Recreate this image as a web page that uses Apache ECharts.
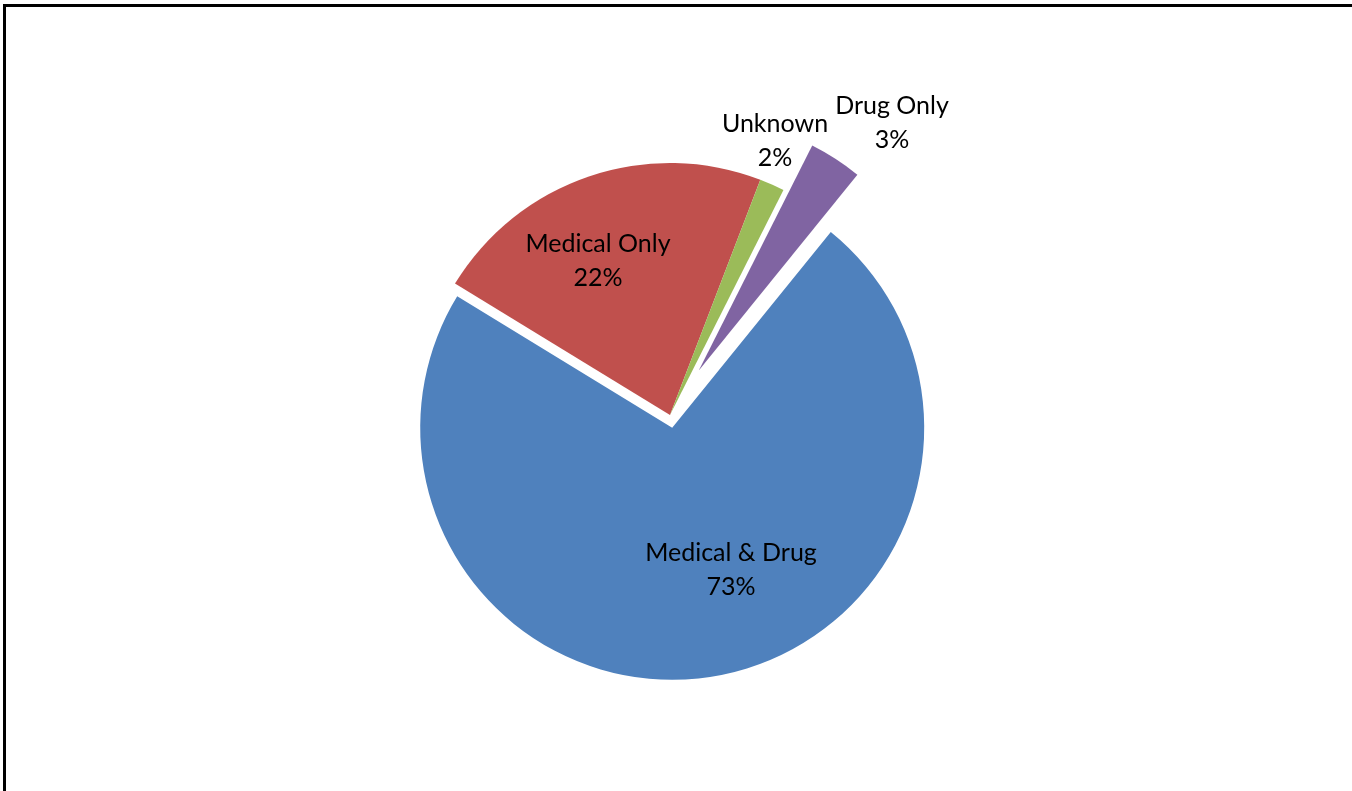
<!DOCTYPE html>
<html>
<head>
<meta charset="utf-8">
<script src="https://cdn.jsdelivr.net/npm/echarts@6/dist/echarts.min.js"></script>
<style>
html,body{margin:0;padding:0;background:#fff;}
#chart{width:1352px;height:791px;}
</style>
</head>
<body>
<div id="chart"></div>
<script>
// Data
const categories = ['Medical & Drug', 'Medical Only', 'Unknown', 'Drug Only'];
const values = [72.9, 22.1, 1.6, 3.4];

// Styling / layout
const colors = ['#4F81BD', '#C0504D', '#9BBB59', '#8064A2'];
const explode = [13, 0, 0, 53];
const labelAnchors = [[731, 570], [598, 261], [775, 141], [892, 123]];

const chart = echarts.init(document.getElementById('chart'), null, {renderer: 'canvas'});

const common = {
  type: 'pie',
  center: [670, 415],
  radius: 252,
  startAngle: 51,
  clockwise: true,
  silent: true,
  animation: false,
  avoidLabelOverlap: false,
  labelLine: {show: false},
  emphasis: {disabled: true}
};

// One series per slice so each can be exploded by its own amount
const sliceSeries = categories.map(function (cat, s) {
  return Object.assign({}, common, {
    selectedMode: 'multiple',
    selectedOffset: explode[s],
    label: {show: false},
    data: categories.map(function (c, i) {
      return {
        name: c,
        value: values[i],
        selected: i === s && explode[s] > 0,
        itemStyle: {color: i === s ? colors[i] : 'rgba(0,0,0,0)', borderWidth: 0}
      };
    })
  });
});

// Label series (transparent sectors), carries the data labels
const labelSeries = Object.assign({}, common, {
  z: 5,
  label: {
    show: true,
    position: 'inside',
    fontFamily: 'Lato',
    fontSize: 25,
    lineHeight: 34,
    color: '#000',
    align: 'center',
    formatter: function (p) { return p.name + '\n' + Math.round(p.percent) + '%'; }
  },
  labelLayout: function (params) {
    const a = labelAnchors[params.dataIndex];
    return {x: a[0], y: a[1], align: 'center', verticalAlign: 'middle'};
  },
  data: categories.map(function (c, i) {
    return {name: c, value: values[i], itemStyle: {color: 'rgba(0,0,0,0)', borderWidth: 0}};
  })
});

chart.setOption({
  backgroundColor: '#fff',
  animation: false,
  graphic: [{
    type: 'rect',
    shape: {x: 4.5, y: 5.5, width: 1500, height: 1000},
    style: {fill: 'none', stroke: '#000', lineWidth: 3},
    silent: true,
    z: 10
  }],
  series: sliceSeries.concat([labelSeries])
});
</script>
</body>
</html>
